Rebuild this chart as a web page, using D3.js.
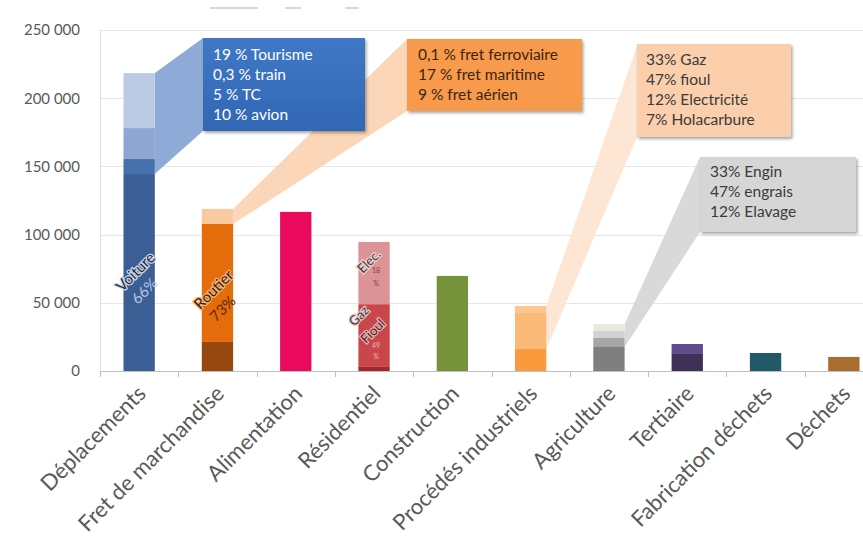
<!DOCTYPE html>
<html><head><meta charset="utf-8">
<script src="https://cdn.jsdelivr.net/npm/d3@7"></script>
<style>
html,body{margin:0;padding:0;background:#fff;}
svg{display:block;font-family:Lato,"Open Sans",sans-serif;}
</style></head>
<body>
<svg id="c" width="863" height="547"></svg>
<script>
// ---------- DATA ----------
const categories = ["Déplacements","Fret de marchandise","Alimentation","Résidentiel","Construction","Procédés industriels","Agriculture","Tertiaire","Fabrication déchets","Déchets"];
// stacked layers, bottom to top
const layer0 = [144400, 21300, 116600, 3000, 69700, 16100, 17600, 12500, 13200, 10300];
const layer1 = [11000, 86500, 0, 46000, 0, 27000, 6600, 7300, 0, 0];
const layer2 = [22700, 11000, 0, 45600, 0, 4600, 5100, 0, 0, 0];
const layer3 = [40300, 0, 0, 0, 0, 0, 5100, 0, 0, 0];
const yTicks = [0, 50000, 100000, 150000, 200000, 250000];
const yTickLabels = ["0","50 000","100 000","150 000","200 000","250 000"];
const calloutBlue = ["19 % Tourisme","0,3 % train","5 % TC","10 % avion"];
const calloutOrange = ["0,1 % fret ferroviaire","17 % fret maritime","9 % fret aérien"];
const calloutPeach = ["33% Gaz","47% fioul","12% Electricité","7% Holacarbure"];
const calloutGray = ["33% Engin","47% engrais","12% Elavage"];

// ---------- STYLES ----------
const colors = [
  ["#3b5f95","#4671ad","#8da6d2","#bdcae3"],
  ["#97480f","#e46c0a","#fbc9a0"],
  ["#ea0a5c"],
  ["#a0282c","#c9474b","#dc9397"],
  ["#76933c"],
  ["#f99b3c","#fbb977","#fcc693"],
  ["#7f7f7f","#a6a6a6","#d2d2d2","#e8eae0"],
  ["#3f3155","#5f4a8b"],
  ["#215968"],
  ["#a86d2f"]
];

const svg = d3.select("#c");
const W = 863, H = 547;
const pLeft = 100, pRight = 883, pTop = 30, pBottom = 371;

const x = d3.scaleBand().domain(categories).range([pLeft, pRight]).paddingInner(0.6).paddingOuter(0.3);
const y = d3.scaleLinear().domain([0, 250000]).range([pBottom, pTop]);

const defs = svg.append("defs");
const f = defs.append("filter").attr("id","sh").attr("x","-10%").attr("y","-10%").attr("width","130%").attr("height","140%");
f.append("feDropShadow").attr("dx",1.5).attr("dy",2).attr("stdDeviation",1.5).attr("flood-color","#000").attr("flood-opacity",0.35);
const g1 = defs.append("linearGradient").attr("id","gb").attr("x1",0).attr("y1",0).attr("x2",0).attr("y2",1);
g1.append("stop").attr("offset",0).attr("stop-color","#3f78c6");
g1.append("stop").attr("offset",1).attr("stop-color","#3267b4");

// faint header remnants
svg.append("g").selectAll("rect").data([[210,48],[285,16],[345,14]]).join("rect")
  .attr("x",d=>d[0]).attr("y",7).attr("width",d=>d[1]).attr("height",2).attr("fill","#d8d8d8");

// gridlines
svg.append("g").selectAll("line").data(yTicks.slice(1)).join("line")
  .attr("x1",pLeft).attr("x2",W).attr("y1",d=>Math.round(y(d))+0.5).attr("y2",d=>Math.round(y(d))+0.5)
  .attr("stroke","#e6e6e6").attr("stroke-width",1);

// y axis
const yAxis = d3.axisLeft(y).tickValues(yTicks).tickFormat((d,i)=>yTickLabels[i]).tickSize(0).tickPadding(20);
const ya = svg.append("g").attr("transform",`translate(${pLeft},0)`).call(yAxis);
ya.select(".domain").attr("stroke","#e0e0e0");
ya.selectAll("text").attr("font-size",15).attr("fill","#595959").attr("font-family","Lato,sans-serif");

// x axis line and ticks
const step = x.step();
svg.append("line").attr("x1",pLeft).attr("x2",W).attr("y1",pBottom+0.5).attr("y2",pBottom+0.5).attr("stroke","#bfbfbf");
svg.append("g").selectAll("line").data(d3.range(categories.length+1)).join("line")
  .attr("x1",i=>Math.round(x(categories[0]) - x.paddingOuter()*step + i*step)+0.5)
  .attr("x2",i=>Math.round(x(categories[0]) - x.paddingOuter()*step + i*step)+0.5)
  .attr("y1",pBottom).attr("y2",pBottom+6).attr("stroke","#bfbfbf");

// callout connectors (drawn behind bars)
const layers = [layer0, layer1, layer2, layer3];
function cum(i, n){ let s=0; for(let k=0;k<n;k++) s+=layers[k][i]; return s; }
const bw = x.bandwidth();
function barRight(i){ return x(categories[i]) + bw; }

const conn = svg.append("g");
conn.append("path").attr("fill","#8eabd7").attr("d", d3.line()([
  [barRight(0), y(cum(0,4))],[203,38],[203,131],[barRight(0), y(cum(0,1))]
]));
conn.append("path").attr("fill","#fbd6b8").attr("d", d3.line()([
  [barRight(1), y(cum(1,3))],[407,39],[407,111],[barRight(1), y(cum(1,2))]
]));
conn.append("path").attr("fill","#fde6d4").attr("d", d3.line()([
  [barRight(5), y(cum(5,3))],[637,46],[637,137],[barRight(5), y(cum(5,1))]
]));
conn.append("path").attr("fill","#d9d9d9").attr("d", d3.line()([
  [barRight(6), y(cum(6,4))],[700,157],[700,232],[barRight(6), y(cum(6,1))]
]));

// bars
const segs = [];
categories.forEach((c,i)=>{
  let base = 0;
  layers.forEach((L,k)=>{
    if(L[i]>0){ segs.push({c, i, k, y0:base, y1:base+L[i]}); base += L[i]; }
  });
});
svg.append("g").selectAll("rect").data(segs).join("rect")
  .attr("x",d=>x(d.c)).attr("width",bw)
  .attr("y",d=>y(d.y1)).attr("height",d=>y(d.y0)-y(d.y1))
  .attr("fill",d=>colors[d.i][d.k]);

// callout boxes
function box(x0,y0,w,h,fill,lines,tx,ty,col){
  svg.append("rect").attr("x",x0).attr("y",y0).attr("width",w).attr("height",h).attr("fill",fill).attr("filter","url(#sh)");
  svg.append("g").selectAll("text").data(lines).join("text")
    .attr("x",tx).attr("y",(d,i)=>ty+i*20).attr("font-size",15.5).attr("fill",col).text(d=>d);
}
box(203,38,162,93,"url(#gb)",calloutBlue,213,60,"#ffffff");
box(407,39,175,72,"#f79a4c",calloutOrange,418,60,"#3a2510");
box(637,44,154,93,"#fbcfac",calloutPeach,646,65,"#3a3a3a");
box(700,157,156,75,"#d6d6d6",calloutGray,710,177,"#3a3a3a");

// in-bar labels
function rot(txt, cx, cy, size, fill, stroke){
  const t = svg.append("text").attr("transform",`translate(${cx},${cy}) rotate(-45)`)
    .attr("text-anchor","middle").attr("font-size",size).attr("fill",fill).text(txt);
  if(stroke) t.attr("stroke",stroke).attr("stroke-width",2.5).attr("paint-order","stroke");
  return t;
}
const cxs = categories.map(c=>x(c)+bw/2);
rot("Voiture", cxs[0], y(70000), 15, "#1c2a3e", "#cfd8e8");
rot("66%", cxs[0]+9, y(56000), 15, "#b7c6e2");
rot("Routier", cxs[1], y(57000), 15, "#3a1e08", "#f3b27a");
rot("73%", cxs[1]+9, y(43000), 15, "#5a2a06");
rot("Elec.", cxs[3]-2, y(78000), 13, "#3a3a3a", "#f0d0d2");
svg.append("text").attr("x",cxs[3]+2).attr("y",y(72000)).attr("font-size",7).attr("text-anchor","middle").attr("fill","#8a3a3e").text("18");
svg.append("text").attr("x",cxs[3]+2).attr("y",y(62500)).attr("font-size",7).attr("text-anchor","middle").attr("fill","#8a3a3e").text("%");
rot("Gaz", cxs[3]-12, y(38000), 13, "#3a3a3a", "#e8c8ca");
rot("Fioul", cxs[3]+2, y(27000), 13, "#4a1a1c", "#e8b0b2");
svg.append("text").attr("x",cxs[3]+2).attr("y",y(16500)).attr("font-size",7).attr("text-anchor","middle").attr("fill","#f0b8ba").text("49");
svg.append("text").attr("x",cxs[3]+2).attr("y",y(8500)).attr("font-size",7).attr("text-anchor","middle").attr("fill","#f0b8ba").text("%");

// x labels
svg.append("g").selectAll("text").data(categories).join("text")
  .attr("transform",c=>`translate(${x(c)+bw/2+8},${pBottom+24}) rotate(-45)`)
  .attr("text-anchor","end").attr("font-size",22).attr("fill","#595959").text(c=>c);
</script>
</body></html>
